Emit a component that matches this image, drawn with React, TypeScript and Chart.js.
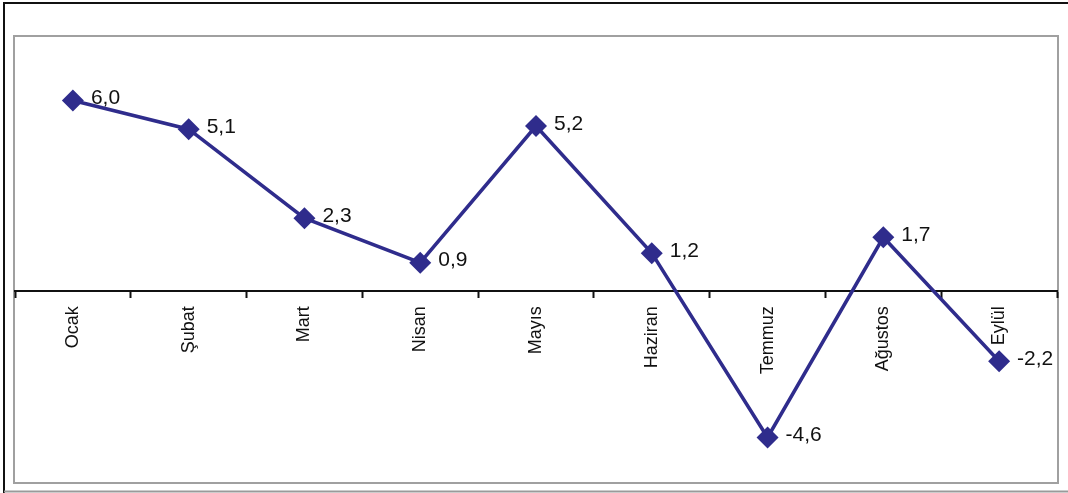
import React, { useEffect, useRef } from "react";
import { Chart, registerables } from "chart.js";

Chart.register(...registerables);

const categories = ["Ocak", "Şubat", "Mart", "Nisan", "Mayıs", "Haziran", "Temmuz", "Ağustos", "Eylül"];
const values = [6.0, 5.1, 2.3, 0.9, 5.2, 1.2, -4.6, 1.7, -2.2];
const yMin = -6;
const yMax = 8;

const NAVY = "#2F2C8C";

const framePlugin = {
  id: "frame",
  beforeDraw(chart: any) {
    const { ctx, width, height, chartArea } = chart;
    ctx.save();
    ctx.fillStyle = "#ffffff";
    ctx.fillRect(0, 0, width, height);
    // outer frame
    ctx.strokeStyle = "#111111";
    ctx.lineWidth = 2;
    ctx.beginPath();
    ctx.moveTo(4, height);
    ctx.lineTo(4, 3);
    ctx.lineTo(width, 3);
    ctx.stroke();
    ctx.strokeStyle = "#9a9a9a";
    ctx.beginPath();
    ctx.moveTo(4, height - 1.5);
    ctx.lineTo(width, height - 1.5);
    ctx.stroke();
    // plot area border
    ctx.strokeStyle = "#a0a0a0";
    ctx.lineWidth = 2;
    ctx.strokeRect(chartArea.left - 1, chartArea.top - 1, chartArea.right - chartArea.left + 2, chartArea.bottom - chartArea.top + 2);
    ctx.restore();
  },
};

const labelPlugin = {
  id: "valueLabels",
  afterDatasetsDraw(chart: any) {
    const { ctx } = chart;
    const meta = chart.getDatasetMeta(0);
    ctx.save();
    ctx.font = "21px 'Liberation Sans', Arial, sans-serif";
    ctx.fillStyle = "#111111";
    ctx.textAlign = "left";
    ctx.textBaseline = "middle";
    meta.data.forEach((pt: any, i: number) => {
      const txt = values[i].toFixed(1).replace(".", ",");
      ctx.fillText(txt, pt.x + 18, pt.y - 2);
    });
    ctx.restore();
  },
};

export default function App() {
  const ref = useRef<HTMLCanvasElement | null>(null);
  useEffect(() => {
    if (!ref.current) return;
    const chart = new Chart(ref.current, {
      type: "line",
      data: {
        labels: categories,
        datasets: [
          {
            data: values,
            borderColor: NAVY,
            backgroundColor: NAVY,
            borderWidth: 3.5,
            pointStyle: "rectRot",
            pointRadius: 11,
            pointHoverRadius: 11,
            pointBackgroundColor: NAVY,
            pointBorderColor: NAVY,
            pointBorderWidth: 0,
            tension: 0,
          },
        ],
      },
      options: {
        responsive: false,
        animation: false,
        devicePixelRatio: 1,
        layout: { padding: { left: 15, top: 37, right: 11, bottom: 11 } },
        plugins: { legend: { display: false }, tooltip: { enabled: false } },
        scales: {
          x: {
            type: "category",
            position: { y: 0 } as any,
            offset: true,
            grid: {
              display: true,
              drawOnChartArea: false,
              drawTicks: true,
              tickLength: 6,
              tickWidth: 2,
              tickColor: "#111111",
              offset: true,
            },
            border: { display: true, color: "#111111", width: 2 },
            ticks: {
              autoSkip: false,
              minRotation: 90,
              maxRotation: 90,
              padding: 9,
              color: "#111111",
              font: { family: "'Liberation Sans', Arial, sans-serif", size: 18 },
            },
          },
          y: {
            display: false,
            min: yMin,
            max: yMax,
          },
        },
      },
      plugins: [framePlugin, labelPlugin],
    });
    return () => chart.destroy();
  }, []);
  return (
    <div style={{ position: "fixed", left: 0, top: 0, width: 1068, height: 493, background: "#fff" }}>
      <canvas ref={ref} width={1068} height={493} style={{ display: "block" }} />
    </div>
  );
}
